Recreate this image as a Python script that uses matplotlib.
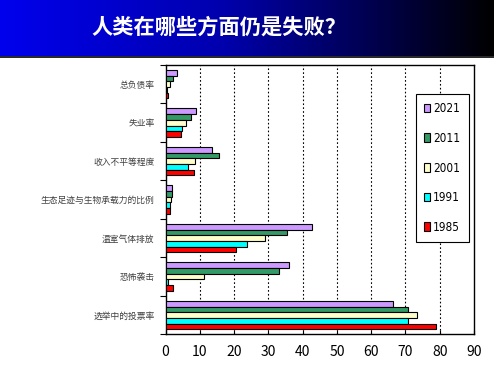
import numpy as np
import matplotlib.pyplot as plt

plt.rcParams['font.family'] = ['Noto Sans CJK SC', 'DejaVu Sans']

categories = ["总负债率", "失业率", "收入不平等程度", "生态足迹与生物承载力的比例",
              "温室气体排放", "恐怖袭击", "选举中的投票率"]
years = ["2021", "2011", "2001", "1991", "1985"]
v2021 = [3.3, 8.8, 13.5, 2.0, 42.8, 35.9, 66.4]
v2011 = [2.1, 7.3, 15.5, 1.8, 35.5, 33.0, 70.8]
v2001 = [1.2, 5.9, 8.5, 1.5, 29.1, 11.2, 73.4]
v1991 = [0.5, 4.9, 6.5, 1.2, 23.7, 0.6, 70.8]
v1985 = [0.6, 4.4, 8.2, 1.2, 20.5, 2.2, 78.8]
series = [v2021, v2011, v2001, v1991, v1985]
colors = ["#CC99FF", "#339966", "#FFFFCC", "#00FFFF", "#FF0000"]

fig = plt.figure(figsize=(4.94, 3.66), dpi=100)

# title banner with blue-to-black gradient
ban = fig.add_axes([0, 1 - 56 / 366, 1, 56 / 366])
t = np.linspace(0, 1, 256)
r = np.zeros_like(t)
b = np.clip(np.where(t < 0.45, 0.93 - 0.25 * t / 0.45, 0.68 * (1 - (t - 0.45) / 0.55)), 0, 1)
grad = np.stack([r, r, b], axis=-1)[None, :, :]
ban.imshow(grad, aspect='auto', extent=[0, 1, 0, 1])
ban.set_axis_off()
fig.add_artist(plt.Line2D([0, 1], [1 - 56.5 / 366] * 2, color='black', lw=1.2))
fig.text(0.444, 1 - 27 / 366, "人类在哪些方面仍是失败？", color='white', fontsize=15.3,
         fontweight='bold', ha='center', va='center')

ax = fig.add_axes([165.5 / 494, 1 - 334.3 / 366, (474 - 165.5) / 494, (334.3 - 65) / 366])
h = 0.148
y = np.arange(len(categories))
for j, (vals, c, yr) in enumerate(zip(series, colors, years)):
    ax.barh(y + (j - 2) * h, vals, height=h, color=c, edgecolor='black', linewidth=0.8,
            label=yr, zorder=3)

ax.set_xlim(0, 90)
ax.set_ylim(len(categories) - 0.5, -0.5)
ax.set_xticks(np.arange(0, 91, 10))
ax.tick_params(axis='x', direction='in', length=3, labelsize=10, pad=8, width=0.8)
for lab in ax.get_xticklabels():
    lab.set_fontstretch('condensed')
ax.set_yticks(np.arange(-0.5, len(categories), 1))
ax.set_yticklabels([])
ax.tick_params(axis='y', which='major', direction='out', length=4, width=0.8)
ax.set_yticks(y, minor=True)
ax.set_yticklabels(categories, minor=True, fontsize=6.3, color='#404040')
ax.tick_params(axis='y', which='minor', length=0, pad=8)
for x in range(10, 90, 10):
    ax.axvline(x, color='black', lw=0.8, ls=(0, (1.5, 2)), zorder=1)
for s in ax.spines.values():
    s.set_linewidth(1.0)

leg = ax.legend(loc='upper left', bbox_to_anchor=(416 / 494, 1 - 94 / 366),
                bbox_transform=fig.transFigure, frameon=True, fancybox=False,
                edgecolor='black', framealpha=1, handlelength=0.45, handleheight=0.75,
                handletextpad=0.3, labelspacing=1.41, borderpad=0.7, borderaxespad=0,
                prop={'family': 'DejaVu Sans', 'stretch': 'condensed', 'size': 8.5})
leg.get_frame().set_linewidth(0.8)
leg.set_zorder(5)

fig.savefig("out.png", dpi=100)
